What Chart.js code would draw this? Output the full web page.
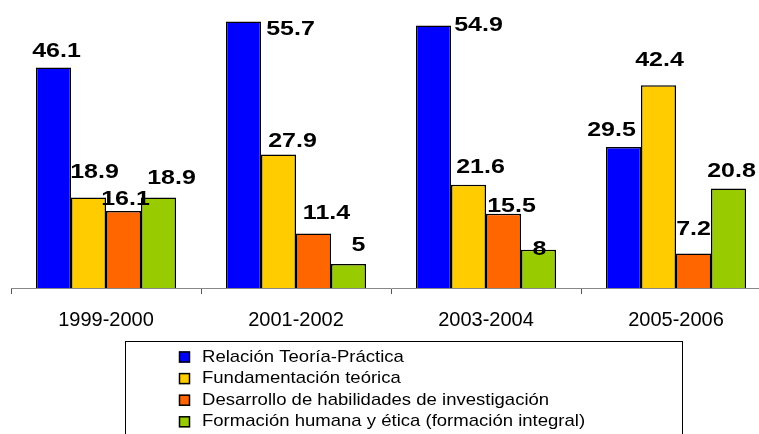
<!DOCTYPE html>
<html>
<head>
<meta charset="utf-8">
<script src="https://cdn.jsdelivr.net/npm/chart.js@4"></script>
<style>
  html, body { margin: 0; padding: 0; background: #fff; overflow: hidden; }
  #wrap { width: 775px; height: 434px; }
</style>
</head>
<body>
<div id="wrap"><canvas id="chart" width="775" height="434"></canvas></div>
<script>
// Data
const categories = ['1999-2000', '2001-2002', '2003-2004', '2005-2006'];
const relacionTeoriaPractica = [46.1, 55.7, 54.9, 29.5];
const fundamentacionTeorica = [18.9, 27.9, 21.6, 42.4];
const desarrolloHabilidades = [16.1, 11.4, 15.5, 7.2];
const formacionHumana = [18.9, 5, 8, 20.8];
const seriesNames = [
    'Relación Teoría-Práctica',
    'Fundamentación teórica',
    'Desarrollo de habilidades de investigación',
    'Formación humana y ética (formación integral)'
];
const seriesColors = ['#0000FF', '#FFCC00', '#FF6600', '#99CC00'];

const FONT = '"Liberation Sans", Arial, sans-serif';

// Value labels, nudged like the hand-placed labels of the original
const valueLabels = {
    id: 'valueLabels',
    afterDatasetsDraw(chart, args, opts) {
        const ctx = chart.ctx;
        ctx.save();
        ctx.font = 'bold 20px ' + FONT;
        ctx.fillStyle = '#000';
        ctx.textAlign = 'center';
        ctx.textBaseline = 'alphabetic';
        chart.data.datasets.forEach((ds, i) => {
            const meta = chart.getDatasetMeta(i);
            meta.data.forEach((bar, j) => {
                const nudge = opts.nudges[i][j];
                const x = bar.x + nudge[0];
                const y = bar.y + nudge[1];
                ctx.save();
                ctx.translate(x, y);
                ctx.scale(1.25, 1);
                ctx.fillText(String(ds.data[j]), 0, 0);
                ctx.restore();
            });
        });
        ctx.restore();
    }
};

// Boxed vertical legend below the axis
const boxLegend = {
    id: 'boxLegend',
    afterDraw(chart, args, opts) {
        const ctx = chart.ctx;
        ctx.save();
        ctx.strokeStyle = '#000';
        ctx.lineWidth = 1;
        ctx.strokeRect(opts.left + 0.5, opts.top + 0.5, opts.width, 120);
        ctx.font = '17px ' + FONT;
        ctx.textBaseline = 'middle';
        ctx.textAlign = 'left';
        chart.data.datasets.forEach((ds, i) => {
            const cy = opts.top + 16 + i * 21.6;
            ctx.fillStyle = ds.backgroundColor;
            ctx.fillRect(opts.left + 54, cy - 5.5, 11, 11);
            ctx.strokeStyle = '#000';
            ctx.lineWidth = 1.5;
            ctx.strokeRect(opts.left + 54.5, cy - 5, 10, 10);
            ctx.fillStyle = '#000';
            ctx.save();
            ctx.translate(opts.left + 77, cy);
            ctx.scale(1.09, 1);
            ctx.fillText(ds.label, 0, 0);
            ctx.restore();
        });
        ctx.restore();
    }
};

const allSeries = [relacionTeoriaPractica, fundamentacionTeorica, desarrolloHabilidades, formacionHumana];

new Chart(document.getElementById('chart'), {
    type: 'bar',
    data: {
        labels: categories,
        datasets: allSeries.map((values, i) => ({
            label: seriesNames[i],
            data: values,
            backgroundColor: seriesColors[i],
            borderColor: '#000',
            borderWidth: 1.5,
            categoryPercentage: 0.737,
            barPercentage: 1.0
        }))
    },
    options: {
        responsive: false,
        animation: false,
        layout: { padding: { left: 11, right: 4, top: 1, bottom: 0 } },
        plugins: {
            legend: { display: false },
            tooltip: { enabled: false },
            valueLabels: {
                nudges: [
                    [[3, -10], [47, 13], [45, 6], [-12, -11]],
                    [[6, -20], [14, -8], [12, -12], [1, -19]],
                    [[2, -6], [13, -14], [8, -2], [0, -19]],
                    [[13, -14], [10, -13], [1, 5], [3, -12]]
                ]
            },
            boxLegend: { left: 125, top: 341, width: 557 }
        },
        scales: {
            x: {
                afterFit(scale) { scale.height = 146; },
                grid: {
                    display: true,
                    drawOnChartArea: false,
                    drawTicks: true,
                    tickLength: 6,
                    color: '#555'
                },
                border: { display: true, color: '#888', width: 1 },
                ticks: {
                    color: '#000',
                    padding: 14,
                    font: { family: FONT, size: 20 }
                }
            },
            y: {
                display: false,
                min: 0,
                max: 60
            }
        }
    },
    plugins: [valueLabels, boxLegend]
});
</script>
</body>
</html>
